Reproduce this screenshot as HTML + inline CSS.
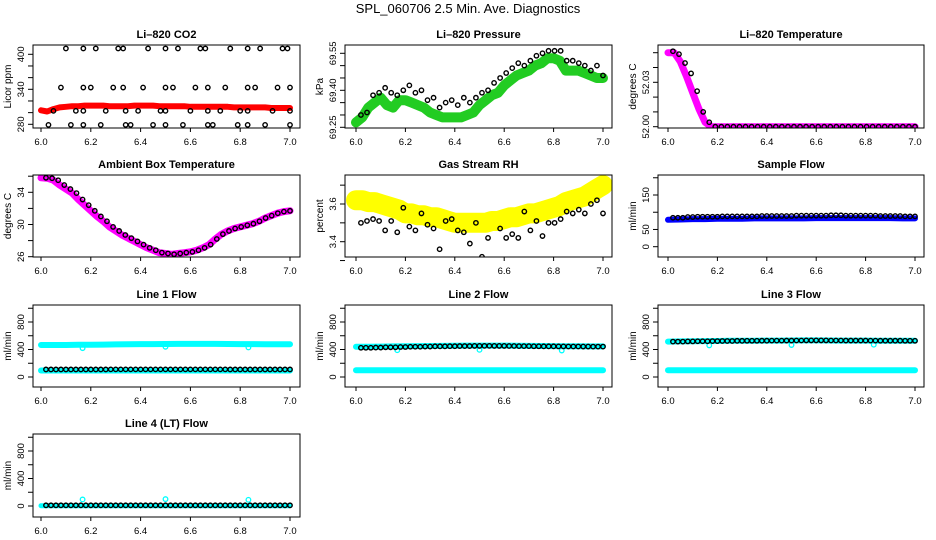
<!DOCTYPE html>
<html><head><meta charset="utf-8">
<style>
html,body{margin:0;padding:0;background:#fff;}
svg{display:block;font-family:"Liberation Sans",sans-serif;}
</style></head>
<body>
<svg id="chart" width="936" height="540" viewBox="0 0 936 540" xmlns="http://www.w3.org/2000/svg">
<rect width="936" height="540" fill="#fff"/>
<text x="468" y="13" font-size="13" text-anchor="middle">SPL_060706  2.5 Min. Ave. Diagnostics</text>
</svg>
<script>
// ---- data (t runs 6.0 to 7.0, evenly sampled) ----
const xTicks = [6.0, 6.2, 6.4, 6.6, 6.8, 7.0];
const xTickLabels = ["6.0", "6.2", "6.4", "6.6", "6.8", "7.0"];

const co2Band = [304,302,306,309,310,311,311,312,312,312,312,311,311,311,311,312,312,312,312,311,311,311,311,311,310,310,310,310,310,310,310,309,309,309,309,309,309,308,308,308,308];
const co2PtTimes = [6.10,6.17,6.22,6.31,6.33,6.43,6.50,6.55,6.64,6.66,6.76,6.83,6.88,6.97,6.99, 6.08,6.17,6.20,6.29,6.33,6.41,6.50,6.53,6.62,6.67,6.74,6.83,6.86,6.95,7.00, 6.05,6.14,6.17,6.26,6.34,6.39,6.48,6.50,6.60,6.67,6.72,6.80,6.83,6.93,7.00, 6.03,6.12,6.17,6.24,6.34,6.36,6.45,6.50,6.57,6.67,6.69,6.79,6.83,6.90,7.00];
const co2PtValues = [410,410,410,410,410,410,410,410,410,410,410,410,410,410,410, 343,343,343,343,343,343,343,343,343,343,343,343,343,343,343, 303,303,303,303,303,303,303,303,303,303,303,303,303,303,303, 279,279,279,279,279,279,279,279,279,279,279,279,279,279,279];

const presBand = [69.27,69.29,69.33,69.35,69.37,69.34,69.33,69.36,69.36,69.35,69.34,69.33,69.31,69.30,69.29,69.29,69.29,69.29,69.30,69.31,69.34,69.36,69.38,69.39,69.42,69.44,69.46,69.47,69.48,69.50,69.51,69.53,69.53,69.52,69.48,69.48,69.48,69.47,69.46,69.45,69.45];
const presPts = [69.30,69.31,69.38,69.39,69.41,69.39,69.38,69.40,69.42,69.39,69.40,69.36,69.37,69.33,69.35,69.36,69.34,69.37,69.35,69.37,69.39,69.40,69.43,69.45,69.47,69.49,69.51,69.50,69.52,69.54,69.55,69.56,69.56,69.56,69.52,69.52,69.51,69.50,69.48,69.50,69.46];

const licTempBand = [5.0,5.0,4.4,3.4,2.3,1.2,0.3,0,0,0,0,0,0,0,0,0,0,0,0,0,0,0,0,0,0,0,0,0,0,0,0,0,0,0,0,0,0,0,0,0,0];
const licTempPts = [5.1,4.9,4.3,3.6,2.4,1.0,0.3,0,0,0,0,0,0,0,0,0,0,0,0,0,0,0,0,0,0,0,0,0,0,0,0,0,0,0,0,0,0,0,0,0,0];

const ambBand = [35.8,35.75,35.5,34.9,34.4,33.9,33.1,32.4,31.7,31.0,30.4,29.7,29.2,28.7,28.3,27.9,27.5,27.1,26.8,26.5,26.4,26.3,26.4,26.5,26.6,26.8,27.1,27.5,28.2,28.8,29.2,29.5,29.7,29.9,30.1,30.4,30.8,31.1,31.4,31.6,31.7];
const ambPts = ambBand.slice();

const rhBand = [3.62,3.62,3.61,3.61,3.60,3.59,3.58,3.57,3.55,3.55,3.54,3.54,3.53,3.53,3.52,3.51,3.50,3.50,3.50,3.50,3.50,3.50,3.51,3.51,3.52,3.53,3.53,3.54,3.55,3.55,3.56,3.57,3.58,3.59,3.61,3.62,3.63,3.64,3.66,3.68,3.70];
const rhPts = [3.50,3.51,3.52,3.51,3.46,3.51,3.45,3.58,3.48,3.46,3.55,3.49,3.47,3.36,3.51,3.52,3.46,3.45,3.39,3.50,3.32,3.42,3.29,3.47,3.42,3.44,3.42,3.56,3.46,3.51,3.43,3.50,3.50,3.52,3.56,3.55,3.57,3.55,3.60,3.62,3.55];

const sampleBand = [78,79,80,80,81,81,81,82,82,82,82,82,83,83,83,83,83,83,83,82,82];
const samplePts = [84,86,87,87,88,88,88,89,89,89,90,90,90,91,90,90,90,89,89,88,88];

const line1Upper = [465,465,466,468,470,472,474,476,478,479,480,481,482,482,481,480,479,478,477,476,476];
const line1Lower = [95,95,95,95,95,95,95,95,95,95,95,95,95,95,95,95,95,95,95,95,95];
const line1Pts = [110,110,110,110,110,111,111,111,111,111,111,111,111,111,111,110,110,110,110,110,110];

const line2Upper = [440,440,442,445,447,449,451,453,455,456,457,457,456,455,453,451,449,447,446,445,445];
const line2Lower = [98,98,98,98,98,98,98,98,98,98,98,98,98,98,98,98,98,98,98,98,98];
const line2Pts = [425,428,432,436,440,443,446,448,450,452,453,452,451,449,447,446,445,444,443,442,442];

const line3Upper = [515,518,520,522,524,526,527,528,529,530,531,532,532,531,530,530,529,528,528,527,527];
const line3Lower = [98,98,98,98,98,98,98,98,98,98,98,98,98,98,98,98,98,98,98,98,98];
const line3Pts = [515,518,520,522,524,526,527,528,529,530,531,532,532,531,530,530,529,528,528,527,527];

const line4Band = [5,5,5,5,5,5,5,5,5,5,5,5,5,5,5,5,5,5,5,5,5];
const line4Pts = [10,10,10,10,10,10,10,10,10,10,10,10,10,10,10,10,10,10,10,10,10];

const dipTimes = [6.167, 6.5, 6.833];
const line1Dips = [420, 440, 430];
const line2Dips = [390, 395, 385];
const line3Dips = [460, 465, 470];
const line4Bumps = [95, 100, 90];

// ---- layout ----
const SVGNS = "http://www.w3.org/2000/svg";
const svg = document.getElementById("chart");
const colX0 = [41, 356, 668], colX1 = [290, 603, 915];
const boxL = [33, 345, 658], boxR = [300, 612, 924];
const rowTop = [45, 175, 305, 434], rowBot = [128, 257, 387, 517];
const defs = document.createElementNS(SVGNS, "defs");
svg.appendChild(defs);
let clipN = 0;

function mk(tag, attrs, parent) {
  const e = document.createElementNS(SVGNS, tag);
  for (const k in attrs) e.setAttribute(k, attrs[k]);
  (parent || svg).appendChild(e);
  return e;
}

function panel(cfg) {
  const g = mk("g", {});
  
  
  const c = cfg.col, r = cfg.row;
  const X = t => colX0[c] + (t - 6) / 1 * (colX1[c] - colX0[c]);
  const Y = v => cfg.py0 + (v - cfg.v0) / (cfg.v1 - cfg.v0) * (cfg.py1 - cfg.py0);
  const tOf = (i, n) => 6 + i / (n - 1);
  const cx = (boxL[c] + boxR[c]) / 2;
  const cid = "clip" + (clipN++);
  const cp = mk("clipPath", {id: cid}, defs);
  mk("rect", {x: boxL[c], y: rowTop[r], width: boxR[c] - boxL[c], height: rowBot[r] - rowTop[r]}, cp);
  const title = mk("text", {x: cx, y: rowTop[r] - 7, "font-size": 11, "font-weight": "bold", "text-anchor": "middle"}, g);
  title.textContent = cfg.title;
  
  
  const pg = mk("g", {"clip-path": `url(#${cid})`}, g);
  
  
  (cfg.bands || []).forEach(b => {
    const pts = b.data.map((v, i) => X(tOf(i, b.data.length)).toFixed(1) + "," + Y(v).toFixed(1)).join(" ");
    const pl = mk("polyline", {points: pts, fill: "none", stroke: b.color, "stroke-width": b.w, "stroke-linejoin": "round", "stroke-linecap": "round"}, pg);
    
    
  });
  (cfg.extra || []).forEach(ex => {
    ex.vals.forEach((v, i) => {
      const ci = mk("circle", {cx: X(ex.times[i]), cy: Y(v), r: 2.3, fill: "none", stroke: ex.color, "stroke-width": 1.3}, pg);
      
      
    });
  });
  if (cfg.pts) {
    const n = cfg.pts.length;
    cfg.pts.forEach((v, i) => {
      const t = cfg.ptTimes ? cfg.ptTimes[i] : 6.02 + i / (n - 1) * 0.98;
      const ci = mk("circle", {cx: X(t), cy: Y(v), r: 2.2, fill: "none", stroke: "#000", "stroke-width": 1.4}, pg);
      
      
    });
  }
  if (cfg.densePts) {
    const n = cfg.densePts.length, m = 50;
    for (let j = 0; j < m; j++) {
      const f = j / (m - 1) * (n - 1), k = Math.min(Math.floor(f), n - 2);
      const v = cfg.densePts[k];
      const ci = mk("circle", {cx: X(6.02 + j / (m - 1) * 0.98), cy: Y(v), r: 2.2, fill: "none", stroke: "#000", "stroke-width": 1.4}, pg);
      
      
    }
  }
  const bx = mk("rect", {x: boxL[c], y: rowTop[r], width: boxR[c] - boxL[c], height: rowBot[r] - rowTop[r], fill: "none", stroke: "#000", "stroke-width": 1}, g);
  
  
  xTicks.forEach((t, i) => {
    mk("line", {x1: X(t), x2: X(t), y1: rowBot[r], y2: rowBot[r] + 4, stroke: "#000"}, g);
    const tl = mk("text", {x: X(t), y: rowBot[r] + 17, "font-size": 9.5, "text-anchor": "middle"}, g);
    tl.textContent = xTickLabels[i];
    
    
  });
  cfg.yTicks.forEach(v => {
    mk("line", {x1: boxL[c] - 5, x2: boxL[c], y1: Y(v), y2: Y(v), stroke: "#000"}, g);
  });
  cfg.yLabels.forEach((lab, i) => {
    const yy = Y(cfg.yLabelVals[i]);
    const tl = mk("text", {x: 0, y: 0, "font-size": 9.5, "text-anchor": "middle", transform: `translate(${boxL[c] - 9},${yy}) rotate(-90)`}, g);
    tl.textContent = lab;
    
    
  });
  const yt = mk("text", {x: 0, y: 0, "font-size": 10, "text-anchor": "middle", transform: `translate(${boxL[c] - 22},${(rowTop[r] + rowBot[r]) / 2}) rotate(-90)`}, g);
  yt.textContent = cfg.ylab;
  
  
}

const flowTicks = [0, 200, 400, 600, 800, 1000];
const flowCfg = (row) => ({v0: 0, v1: 800, py0: rowTop[row] + 72, py1: rowTop[row] + 17, yTicks: flowTicks, yLabels: ["0", "400", "800"], yLabelVals: [0, 400, 800], ylab: "ml/min"});

panel({name: "co2-panel", title: "Li\u2013820 CO2", col: 0, row: 0, v0: 280, v1: 400, py0: 124.3, py1: 54.3,
  yTicks: [280, 300, 320, 340, 360, 380, 400], yLabels: ["280", "340", "400"], yLabelVals: [280, 340, 400], ylab: "Licor ppm",
  bands: [{data: co2Band, color: "#ff0000", w: 6}], pts: co2PtValues, ptTimes: co2PtTimes});
panel({name: "pressure-panel", title: "Li\u2013820 Pressure", col: 1, row: 0, v0: 69.25, v1: 69.55, py0: 127.3, py1: 53.3,
  yTicks: [69.25, 69.30, 69.35, 69.40, 69.45, 69.50, 69.55], yLabels: ["69.25", "69.40", "69.55"], yLabelVals: [69.25, 69.40, 69.55], ylab: "kPa",
  bands: [{data: presBand, color: "#22cc22", w: 10}], pts: presPts});
panel({name: "licor-temperature-panel", title: "Li\u2013820 Temperature", col: 2, row: 0, v0: 0, v1: 5, py0: 126.7, py1: 52.7,
  yTicks: [0, 1, 2, 3, 4, 5], yLabels: ["52.00", "52.03"], yLabelVals: [0, 3], ylab: "degrees C",
  bands: [{data: licTempBand, color: "#ff00ff", w: 7}], pts: licTempPts});
panel({name: "ambient-temperature-panel", title: "Ambient Box Temperature", col: 0, row: 1, v0: 26, v1: 34, py0: 256.7, py1: 192.3,
  yTicks: [26, 28, 30, 32, 34, 36], yLabels: ["26", "30", "34"], yLabelVals: [26, 30, 34], ylab: "degrees C",
  bands: [{data: ambBand, color: "#ff00ff", w: 7}], pts: ambPts});
panel({name: "gas-rh-panel", title: "Gas Stream RH", col: 1, row: 1, v0: 3.4, v1: 3.6, py0: 241.7, py1: 204,
  yTicks: [3.3, 3.4, 3.5, 3.6, 3.7], yLabels: ["3.4", "3.6"], yLabelVals: [3.4, 3.6], ylab: "percent",
  bands: [{data: rhBand, color: "#ffff00", w: 20}], pts: rhPts});
panel({name: "sample-flow-panel", title: "Sample Flow", col: 2, row: 1, v0: 0, v1: 150, py0: 246.7, py1: 195,
  yTicks: [0, 50, 100, 150, 200], yLabels: ["0", "50", "150"], yLabelVals: [0, 50, 150], ylab: "ml/min",
  bands: [{data: sampleBand, color: "#0000ff", w: 6}], densePts: samplePts});
panel(Object.assign(flowCfg(2), {name: "line1-flow-panel", title: "Line 1 Flow", col: 0, row: 2,
  bands: [{data: line1Upper, color: "#00ffff", w: 6}, {data: line1Lower, color: "#00ffff", w: 6}],
  extra: [{times: dipTimes, vals: line1Dips, color: "#00ffff"}], densePts: line1Pts}));
panel(Object.assign(flowCfg(2), {name: "line2-flow-panel", title: "Line 2 Flow", col: 1, row: 2,
  bands: [{data: line2Upper, color: "#00ffff", w: 6}, {data: line2Lower, color: "#00ffff", w: 6}],
  extra: [{times: dipTimes, vals: line2Dips, color: "#00ffff"}], densePts: line2Pts}));
panel(Object.assign(flowCfg(2), {name: "line3-flow-panel", title: "Line 3 Flow", col: 2, row: 2,
  bands: [{data: line3Upper, color: "#00ffff", w: 6}, {data: line3Lower, color: "#00ffff", w: 6}],
  extra: [{times: dipTimes, vals: line3Dips, color: "#00ffff"}], densePts: line3Pts}));
panel(Object.assign(flowCfg(3), {name: "line4-flow-panel", title: "Line 4 (LT) Flow", col: 0, row: 3,
  bands: [{data: line4Band, color: "#00ffff", w: 5}],
  extra: [{times: dipTimes, vals: line4Bumps, color: "#00ffff"}], densePts: line4Pts}));
</script>
</body></html>
